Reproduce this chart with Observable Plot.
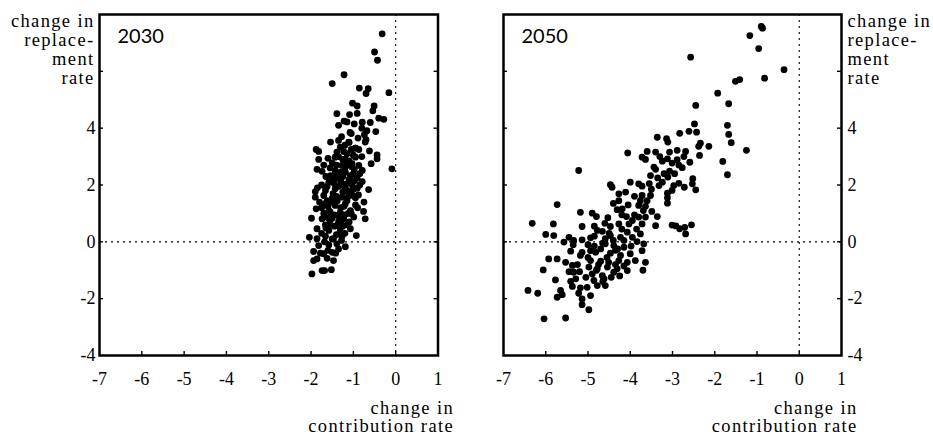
<!DOCTYPE html>
<html><head><meta charset="utf-8">
<script src="https://cdn.jsdelivr.net/npm/d3@7"></script>
<script src="https://cdn.jsdelivr.net/npm/@observablehq/plot@0.6"></script>
<style>
body{margin:0;background:#fff;}
#wrap{position:relative;width:933px;height:437px;overflow:hidden;}
#wrap svg{position:absolute;top:0;overflow:visible;}
#wrap svg text{font-family:"Liberation Serif","Times New Roman",Times,"DejaVu Serif",serif;}
</style></head><body><div id="wrap"></div>
<script>
// ---- data: panel 2030 ----
const x2030 = [-0.32,-0.50,-0.43,-1.22,-1.50,-0.86,-0.65,-0.70,-0.16,-1.02,-0.91,-0.51,-0.54,-1.39,-1.09,-0.91,-0.40,-0.28,-1.22,-1.15,-1.35,-0.79,-0.47,-0.68,-0.74,-1.05,-0.89,-1.35,-1.54,-1.11,-0.72,-1.31,-0.95,-1.88,-1.82,-1.39,-1.23,-0.87,-0.44,-0.44,-1.82,-1.60,-1.43,-1.19,-0.95,-1.50,-1.27,-1.03,-0.87,-1.86,-1.74,-0.09,-1.43,-1.19,-0.79,-1.54,-1.35,-1.07,-0.91,-1.58,-1.27,-1.03,-0.79,-1.43,-1.15,-0.91,-0.64,-1.90,-1.66,-1.90,-1.70,-1.50,-1.27,-0.99,-1.66,-1.43,-1.19,-0.95,-1.88,-1.58,-1.31,-1.07,-0.76,-1.99,-1.74,-1.50,-1.23,-0.99,-0.72,-1.66,-1.39,-1.15,-1.86,-1.58,-1.31,-1.07,-0.93,-2.04,-1.86,-1.66,-1.47,-1.27,-1.82,-1.58,-1.39,-1.19,-1.94,-1.70,-1.50,-1.86,-1.62,-1.47,-1.94,-1.74,-1.68,-1.52,-1.98,
-1.45,-1.30,-1.20,-1.10,-1.00,-1.35,-1.25,-1.05,-1.40,-1.15,-1.30,-1.45,-1.20,-1.35,-1.55,-1.40,-1.25,-1.50,-1.60,-1.10,-1.00,-0.85,-1.15,-1.40,-1.55,-1.25,-0.95,-1.05,-1.65,-1.75,-1.50,-1.35,-1.60,-1.20,-1.10,-0.90,-0.85,-1.20,-1.45,-1.30,-1.05,-0.95,-1.10,-1.20,-0.80,-0.70,-0.80,-0.60,-0.75,-1.70,-1.80,-1.75,-1.85,-1.65,-1.70,
-1.62,-1.48,-1.38,-1.22,-1.12,-1.00,-0.88,-1.33,-1.45,-1.60,-1.28,-1.42,-1.58,-1.18,-1.35,-1.05,-0.98,-1.62,-1.75,-1.50,-1.12,-1.30,-1.55,-1.68,-1.78,-1.25,-1.40,-0.98,-1.15,-1.08,-0.98,-1.28,-0.62,-0.58];
const y2030 = [7.32,6.68,6.39,5.88,5.57,5.41,5.39,5.22,5.25,4.88,4.78,4.78,4.61,4.51,4.48,4.52,4.35,4.31,4.25,4.22,4.10,4.21,3.88,3.91,3.77,3.81,3.65,3.57,3.51,3.51,3.51,3.33,3.30,3.25,3.18,3.16,3.18,3.25,3.06,2.92,2.90,2.94,2.98,2.90,2.98,2.78,2.69,2.75,2.69,2.55,2.48,2.57,2.51,2.45,2.51,2.33,2.28,2.33,2.24,2.10,2.04,2.00,2.12,1.87,1.81,1.89,1.84,1.77,1.81,1.57,1.63,1.54,1.57,1.61,1.34,1.28,1.34,1.30,1.16,1.10,1.04,1.10,1.07,0.83,0.81,0.83,0.81,0.87,0.81,0.60,0.57,0.60,0.46,0.40,0.40,0.46,0.22,0.16,0.11,0.20,0.11,0.20,-0.13,-0.11,-0.07,-0.17,-0.34,-0.42,-0.37,-0.60,-0.58,-0.66,-0.66,-1.01,-1.01,-0.98,-1.13,
2.35,2.15,2.60,2.20,2.40,1.95,1.75,1.70,1.60,1.45,1.20,0.95,0.95,0.70,0.75,0.25,0.55,1.40,1.25,2.85,3.05,2.40,3.10,2.70,2.60,2.90,1.55,1.00,0.50,0.30,0.10,-0.25,-0.30,0.30,0.70,1.20,2.00,1.90,2.05,2.45,2.65,3.30,3.50,3.40,3.00,3.60,4.00,4.20,1.40,1.00,1.40,2.00,1.90,2.30,2.70,
1.95,1.70,1.45,1.25,1.60,1.85,1.65,0.85,0.55,0.85,0.05,-0.40,0.60,2.75,3.00,3.25,2.55,1.45,1.20,2.20,1.00,0.65,1.05,0.00,-0.40,2.30,2.25,2.15,2.05,3.85,4.15,3.70,3.20,2.75];

// ---- data: panel 2050 ----
const x2050 = [-5.73,-5.18,-4.90,-4.80,-4.53,-4.31,-4.19,-4.27,-4.09,-6.32,-5.82,-5.14,-4.47,-4.27,-4.03,-4.78,-4.66,-6.00,-5.81,-5.45,-5.57,-5.34,-5.14,-4.94,-4.59,-4.47,-4.23,-4.07,-3.95,-4.59,-4.39,-4.15,-5.41,-5.14,-4.94,-4.82,-5.18,-4.47,-4.23,-4.00,-5.93,-5.73,-5.53,-4.94,-4.70,-4.51,-4.27,-4.07,-5.37,-4.98,-4.78,-4.54,-4.31,-4.07,-6.06,-5.34,-4.90,-4.66,-4.39,-5.77,-5.41,-5.29,-4.86,-4.62,-5.37,-5.18,-5.02,-4.78,-4.59,-6.42,-6.19,-5.65,-5.61,-5.73,-5.22,-4.94,-5.14,-5.14,-4.98,-6.04,-5.53,
-3.36,-4.06,-3.60,-3.72,-3.64,-3.40,-3.44,-3.40,-3.52,-4.47,-4.43,-3.80,-3.72,-3.32,-4.27,-4.11,-3.72,-3.52,-3.76,-3.60,-3.80,-3.64,-3.69,-3.49,-3.80,-3.64,-3.36,-3.72,-3.40,-3.76,-3.84,-3.68,-3.72,-3.64,-3.88,
-1.93,-2.45,-1.67,-2.48,-1.70,-2.83,-2.61,-2.43,-1.67,-3.14,-3.11,-1.61,-2.34,-2.38,-2.14,-1.25,-2.89,-2.69,-3.07,-2.36,-2.73,-3.12,-3.24,-2.89,-3.01,-2.59,-1.81,-2.77,-3.07,-1.70,-3.11,-3.24,-2.52,-2.53,-2.85,-2.97,-2.72,-2.45,-3.01,-3.12,-3.12,-3.12,-3.01,-2.92,-2.83,-2.71,-2.55,-2.69,
-0.90,-0.87,-1.17,-0.96,-0.36,-0.82,-1.51,-1.41,-2.57,-5.22,-3.70,
-4.85,-4.70,-4.55,-4.35,-4.15,-4.40,-4.60,-4.85,-5.00,-4.75,-4.45,-5.05,-4.20,-3.95,-4.05,-4.40,-3.90,-4.00,-3.55,-3.20,-3.30,-2.95,-5.25,-5.45,-4.25,-3.98,-3.85,
-4.65,-4.30,-4.50,-4.15,-4.35,-4.80,-5.00,-4.65,-5.20,-5.35,-3.90,-4.20,-3.50,-3.35,-2.85,-4.85];
const y2050 = [1.31,1.04,1.01,0.89,0.85,1.13,1.16,1.45,0.89,0.65,0.63,0.54,0.54,0.63,0.63,0.40,0.37,0.26,0.22,0.16,-0.01,0.05,0.07,0.14,0.11,0.22,0.16,0.34,0.16,-0.07,-0.13,-0.19,-0.33,-0.37,-0.31,-0.37,-0.48,-0.40,-0.48,-0.42,-0.60,-0.60,-0.72,-0.66,-0.68,-0.72,-0.66,-0.72,-0.83,-0.89,-0.95,-0.89,-0.95,-1.01,-0.99,-1.07,-1.13,-1.19,-1.07,-1.34,-1.39,-1.30,-1.36,-1.30,-1.57,-1.62,-1.60,-1.54,-1.54,-1.71,-1.81,-1.71,-1.86,-1.95,-1.81,-1.89,-2.01,-2.21,-2.39,-2.71,-2.68,
3.68,3.13,3.18,2.98,2.90,3.16,2.63,2.55,2.33,2.01,1.92,2.04,1.96,1.98,1.69,1.75,1.63,1.63,1.45,1.45,1.28,1.25,1.10,1.07,0.87,0.87,0.89,0.63,0.57,0.28,0.01,-0.07,-0.31,-0.72,-0.66,
5.23,4.80,4.86,4.15,4.10,3.82,3.89,3.86,3.78,3.63,3.51,3.49,3.47,3.36,3.36,3.22,3.22,3.18,3.16,3.04,3.00,2.92,2.84,2.89,2.77,2.80,2.83,2.61,2.49,2.36,2.28,2.10,2.22,2.04,2.06,1.98,1.92,1.83,1.81,1.71,1.55,1.36,0.59,0.56,0.46,0.51,0.60,0.28,
7.58,7.52,7.26,6.80,6.06,5.76,5.65,5.71,6.50,2.51,-1.00,
-0.15,-0.25,-0.55,-0.30,-0.85,0.05,0.65,0.55,-0.10,-0.80,-1.25,-1.25,0.45,0.75,1.30,1.35,1.60,2.10,2.05,2.40,3.00,2.40,-0.80,-1.05,-1.20,-0.15,0.45,
-0.05,-0.25,0.30,0.05,-0.80,-1.00,-0.55,-1.40,-1.05,-0.10,0.95,0.95,1.85,2.25,2.70,0.20];

// ---- axes ----
const xTicks = [-7,-6,-5,-4,-3,-2,-1,0,1];
const xTickMarks = [-6,-5,-4,-3,-2,-1,0];
const yTicks = [-4,-2,0,2,4];
const yTickMarks = [-2,0,2,4,6];
const xDomain = [-7, 1];
const yDomain = [-4, 8];
const panelLabels = ["2030", "2050"];
const yTitle = "change in\nreplace-\nment\nrate";
const xTitle = "change in\ncontribution rate";

const H = 437, MT = 14, MB = 82;

function panel({xs, ys, label, side, width, marginLeft, marginRight}) {
  const data = xs.map((x, i) => ({x, y: ys[i]}));
  const fw = width - marginLeft - marginRight;
  const fh = H - MT - MB;
  const left = side === "left";
  const svg = Plot.plot({
    width, height: H, marginLeft, marginRight, marginTop: MT, marginBottom: MB,
    x: {domain: xDomain},
    y: {domain: yDomain},
    style: {fontSize: "18px", color: "#000", background: "transparent", overflow: "visible"},
    marks: [
      Plot.ruleX([0], {x: d => d, stroke: "#000", strokeWidth: 1.1, strokeDasharray: "2,4"}),
      Plot.ruleY([0], {y: d => d, stroke: "#000", strokeWidth: 1.1, strokeDasharray: "2,4"}),
      Plot.dot(data, {x: "x", y: "y", r: 3.4, fill: "#000"}),
      Plot.ruleX(xTickMarks, {x: d => d, insetTop: fh - 4, stroke: "#000", strokeWidth: 1.4}),
      Plot.ruleY(yTickMarks, {y: d => d, insetRight: fw - 4, stroke: "#000", strokeWidth: 1.4}),
      Plot.ruleY(yTickMarks, {y: d => d, insetLeft: fw - 4, stroke: "#000", strokeWidth: 1.4}),
      Plot.frame({stroke: "#000", strokeWidth: 2.5}),
      Plot.axisX(xTicks, {tickSize: 0, tickPadding: 17, tickFormat: d => String(d), label: null, fontSize: 18}),
      Plot.axisY(yTicks, {anchor: left ? "left" : "right", tickSize: 0, tickPadding: left ? 4 : 6, tickFormat: d => String(d), label: null, fontSize: 18}),
      Plot.text([label], {frameAnchor: "top-left", text: d => d, textAnchor: "start", lineAnchor: "top", dx: 18, dy: 14, fontSize: 20}),
      Plot.text([yTitle], {frameAnchor: left ? "top-left" : "top-right", text: d => d, textAnchor: left ? "end" : "start", lineAnchor: "top", dx: left ? -5 : 6, dy: -1, lineHeight: 1.02, fontSize: 18.5}),
      Plot.text([xTitle], {frameAnchor: "bottom-right", text: d => d, textAnchor: "end", lineAnchor: "top", dx: 16, dy: 45, lineHeight: 1.0, fontSize: 18.5})
    ]
  });
  // typographic tweaks: sans year label, wider axis titles
  d3.select(svg).selectAll("text").each(function() {
    const t = this.textContent;
    if (t === label) this.style.fontFamily = "Lato, 'Liberation Sans', sans-serif";
    if (t.startsWith("change in")) this.style.letterSpacing = "1.35px";
  });
  return svg;
}

const wrap = document.getElementById("wrap");
const p1 = panel({xs: x2030, ys: y2030, label: panelLabels[0], side: "left", width: 466, marginLeft: 99, marginRight: 28.5});
p1.style.left = "0px";
const p2 = panel({xs: x2050, ys: y2050, label: panelLabels[1], side: "right", width: 467, marginLeft: 37, marginRight: 92});
p2.style.left = "466px";
wrap.appendChild(p1);
wrap.appendChild(p2);
</script>
</body></html>
